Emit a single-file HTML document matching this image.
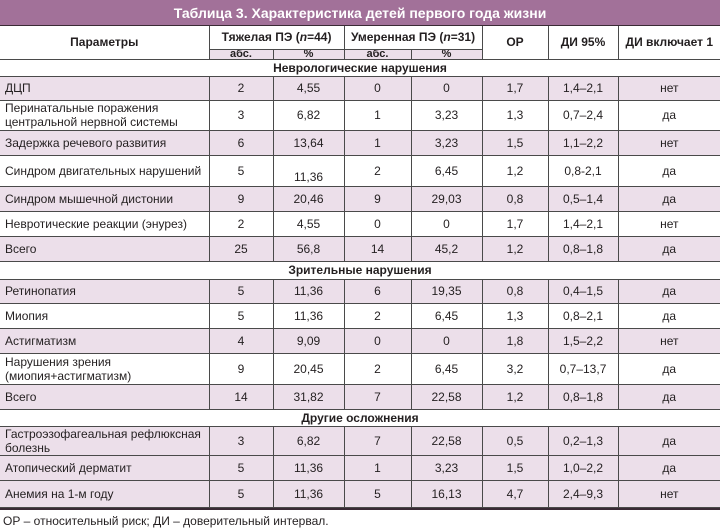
<!DOCTYPE html>
<html><head><meta charset="utf-8"><style>
body{margin:0;background:#fff;width:720px;height:526px;overflow:hidden;font-family:"Liberation Sans",Arial,sans-serif;color:#231f20}
.bar{height:25px;background:#a27199;color:#fff;font-weight:bold;font-size:14px;line-height:26px;text-align:center;border-bottom:1px solid #3a2a35}
table{border-collapse:collapse;table-layout:fixed;width:720px;font-size:12px}
td{border:1px solid #4a4a4a;padding:0 4px;text-align:center;vertical-align:middle;overflow:hidden;line-height:14px}
td.l{text-align:left;padding-left:5px}
tr.p td{background:#ecdfea}
tr.s td{font-weight:bold;background:#fff;border-left:none;border-right:none;height:16px}
.h td{font-weight:bold}
.sub td.pk{background:#ecdfea;font-size:11px;line-height:9px;padding-top:0;padding-bottom:0}
tr:first-child td{border-top:none}
td:first-child{border-left:none}td:last-child{border-right:none}
.foot{font-size:12px;padding:4px 0 0 3px;border-top:2px solid #3a2a35;width:720px}
</style></head><body>
<div class="bar">Таблица 3. Характеристика детей первого года жизни</div>
<table>
<colgroup><col style="width:209px"><col style="width:64px"><col style="width:71px"><col style="width:67px"><col style="width:71px"><col style="width:66px"><col style="width:70px"><col style="width:102px"></colgroup>
<tr class="h" style="height:23px"><td rowspan="2">Параметры</td><td colspan="2">Тяжелая ПЭ (<i>n</i>=44)</td><td colspan="2">Умеренная ПЭ (<i>n</i>=31)</td><td rowspan="2">ОР</td><td rowspan="2">ДИ 95%</td><td rowspan="2">ДИ включает 1</td></tr>
<tr class="h sub" style="height:10px;"><td class="pk">абс.</td><td class="pk">%</td><td class="pk">абс.</td><td class="pk">%</td></tr>
<tr class="s"><td colspan="8">Неврологические нарушения</td></tr>
<tr class="p" style="height:24px"><td class="l">ДЦП</td><td>2</td><td>4,55</td><td>0</td><td>0</td><td>1,7</td><td>1,4–2,1</td><td>нет</td></tr>
<tr style="height:30px"><td class="l">Перинатальные поражения центральной нервной системы</td><td>3</td><td>6,82</td><td>1</td><td>3,23</td><td>1,3</td><td>0,7–2,4</td><td>да</td></tr>
<tr class="p" style="height:25px"><td class="l">Задержка речевого развития</td><td>6</td><td>13,64</td><td>1</td><td>3,23</td><td>1,5</td><td>1,1–2,2</td><td>нет</td></tr>
<tr style="height:31px"><td class="l">Синдром двигательных нарушений</td><td>5</td><td style="padding-top:12px">11,36</td><td>2</td><td>6,45</td><td>1,2</td><td>0,8-2,1</td><td>да</td></tr>
<tr class="p" style="height:25px"><td class="l">Синдром мышечной дистонии</td><td>9</td><td>20,46</td><td>9</td><td>29,03</td><td>0,8</td><td>0,5–1,4</td><td>да</td></tr>
<tr style="height:25px"><td class="l">Невротические реакции (энурез)</td><td>2</td><td>4,55</td><td>0</td><td>0</td><td>1,7</td><td>1,4–2,1</td><td>нет</td></tr>
<tr class="p" style="height:25px"><td class="l">Всего</td><td>25</td><td>56,8</td><td>14</td><td>45,2</td><td>1,2</td><td>0,8–1,8</td><td>да</td></tr>
<tr class="s" style="height:18px"><td colspan="8">Зрительные нарушения</td></tr>
<tr class="p" style="height:24px"><td class="l">Ретинопатия</td><td>5</td><td>11,36</td><td>6</td><td>19,35</td><td>0,8</td><td>0,4–1,5</td><td>да</td></tr>
<tr style="height:25px"><td class="l">Миопия</td><td>5</td><td>11,36</td><td>2</td><td>6,45</td><td>1,3</td><td>0,8–2,1</td><td>да</td></tr>
<tr class="p" style="height:25px"><td class="l">Астигматизм</td><td>4</td><td>9,09</td><td>0</td><td>0</td><td>1,8</td><td>1,5–2,2</td><td>нет</td></tr>
<tr style="height:31px"><td class="l">Нарушения зрения (миопия+астигматизм)</td><td>9</td><td>20,45</td><td>2</td><td>6,45</td><td>3,2</td><td>0,7–13,7</td><td>да</td></tr>
<tr class="p" style="height:25px"><td class="l">Всего</td><td>14</td><td>31,82</td><td>7</td><td>22,58</td><td>1,2</td><td>0,8–1,8</td><td>да</td></tr>
<tr class="s" style="height:17px"><td colspan="8">Другие осложнения</td></tr>
<tr class="p" style="height:28px"><td class="l">Гастроэзофагеальная рефлюксная болезнь</td><td>3</td><td>6,82</td><td>7</td><td>22,58</td><td>0,5</td><td>0,2–1,3</td><td>да</td></tr>
<tr class="p" style="height:25px"><td class="l">Атопический дерматит</td><td>5</td><td>11,36</td><td>1</td><td>3,23</td><td>1,5</td><td>1,0–2,2</td><td>да</td></tr>
<tr class="p" style="height:27px"><td class="l">Анемия на 1-м году</td><td>5</td><td>11,36</td><td>5</td><td>16,13</td><td>4,7</td><td>2,4–9,3</td><td>нет</td></tr>
</table>
<div class="foot">ОР – относительный риск; ДИ – доверительный интервал.</div>
</body></html>
